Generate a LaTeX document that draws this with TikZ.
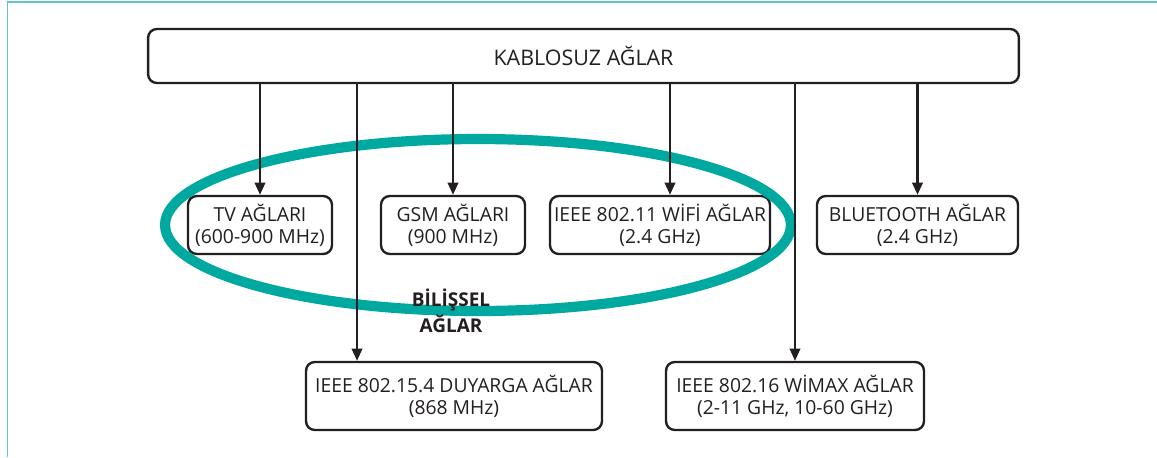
\documentclass[tikz,border=0pt]{standalone}
\usepackage{fontspec}
\setmainfont{Open Sans}
\usetikzlibrary{positioning,arrows.meta}
\definecolor{ink}{RGB}{35,31,32}
\definecolor{ringteal}{RGB}{0,169,160}
\definecolor{frameteal}{RGB}{96,199,193}
\tikzset{
  net/.style={draw=ink, line width=1.35pt, rounded corners=5pt, fill=white, align=center,
              text=ink, font=\fontsize{11}{12.6}\selectfont, inner sep=2pt},
  arr/.style={-{Triangle[length=7pt,width=6pt]}, line width=1.3pt, draw=ink},
  ring/.style={draw=ringteal, line width=5.8pt},
  lbl/.style={font=\bfseries\fontsize{10.8}{14.6}\selectfont, align=center, text=ink},
  frame/.style={draw=frameteal, line width=1pt},
}

\begin{document}
\begin{tikzpicture}[x=0.02cm, y=-0.02cm]
  \useasboundingbox (0,0) rectangle (1157,457);
  % page frame
  \draw[frame] (7.5,457) -- (7.5,1.8) -- (1157,1.8);

  % root
  \node[net, minimum width=17.42cm, minimum height=1.08cm,
        font=\fontsize{12.2}{13}\selectfont] (root) at (583.5,56) {KABLOSUZ AĞLAR};

  % middle row
  \node[net, minimum width=2.88cm, minimum height=1.16cm] (tv)   at (260,225)   {TV AĞLARI\\(600-900 MHz)};
  \node[net, minimum width=2.88cm, minimum height=1.16cm] (gsm)  at (453,225)   {GSM AĞLARI\\(900 MHz)};
  \node[net, minimum width=4.4cm,  minimum height=1.16cm] (wifi) at (660,225)   {IEEE 802.11 WİFİ AĞLAR\\(2.4 GHz)};
  \node[net, minimum width=4.02cm, minimum height=1.16cm] (bt)   at (917.5,225) {BLUETOOTH AĞLAR\\(2.4 GHz)};

  % bottom row
  \node[net, minimum width=5.92cm, minimum height=1.36cm] (duy)   at (454,396) {IEEE 802.15.4 DUYARGA AĞLAR\\(868 MHz)};
  \node[net, minimum width=5.16cm, minimum height=1.36cm] (wimax) at (795,396) {IEEE 802.16 WİMAX AĞLAR\\(2-11 GHz, 10-60 GHz)};

  % cognitive group
  \draw[ring] (478,225) ellipse [x radius=6.26cm, y radius=1.72cm];

  \coordinate (wifiin) at ([xshift=0.2cm]wifi.north);
  \coordinate (duyin)  at ([xshift=-1.94cm]duy.north);

  \draw[arr] (root.south -| tv.north)    -- (tv.north);
  \draw[arr] (root.south -| duyin)       -- (duyin);
  \draw[arr] (root.south -| gsm.north)   -- (gsm.north);
  \draw[arr] (root.south -| wifiin)      -- (wifiin);
  \draw[arr] (root.south -| wimax.north) -- (wimax.north);
  \draw[arr] (root.south -| bt.north)    -- (bt.north);

  \node[lbl] (cog) at (451,311) {BİLİŞSEL\\AĞLAR};
\end{tikzpicture}
\end{document}
